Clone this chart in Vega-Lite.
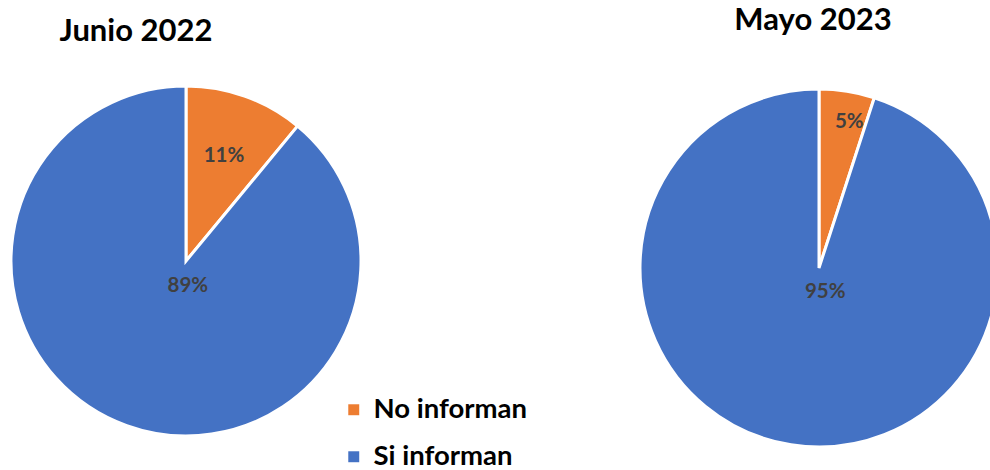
{
  "$schema": "https://vega.github.io/schema/vega-lite/v6.json",
  "width": 990,
  "height": 470,
  "autosize": {"type": "none"},
  "padding": 0,
  "background": "white",
  "config": {"view": {"stroke": null}},
  "data": {"values": [
    {"period": "Junio 2022", "category": "No informan", "value": 0.11},
    {"period": "Junio 2022", "category": "Si informan", "value": 0.89},
    {"period": "Mayo 2023", "category": "No informan", "value": 0.05},
    {"period": "Mayo 2023", "category": "Si informan", "value": 0.95}
  ]},
  "encoding": {
    "x": {"field": "period", "type": "nominal", "scale": {"type": "point", "domain": ["Junio 2022", "Mayo 2023"], "range": [186, 819], "padding": 0}, "axis": null},
    "y": {"field": "period", "type": "nominal", "scale": {"type": "point", "domain": ["Junio 2022", "Mayo 2023"], "range": [261, 268], "padding": 0}, "axis": null},
    "theta": {"field": "value", "type": "quantitative", "stack": true, "scale": {"domain": [0, 1]}},
    "order": {"field": "category", "sort": "ascending"}
  },
  "layer": [
    {
      "transform": [{"filter": "datum.period === 'Junio 2022'"}],
      "mark": {"type": "arc", "radius": 175, "stroke": "white", "strokeWidth": 3},
      "encoding": {
        "color": {"field": "category", "type": "nominal", "scale": {"domain": ["No informan", "Si informan"], "range": ["#ED7D31", "#4472C4"]},
          "legend": {"title": null, "orient": "none", "legendX": 340, "legendY": 396, "symbolType": "square", "symbolSize": 120, "symbolStrokeWidth": 0, "labelFont": "Lato", "labelFontWeight": "bold", "labelFontSize": 27.5, "labelColor": "#000000", "rowPadding": 18, "labelOffset": 6}}
      }
    },
    {
      "transform": [{"filter": "datum.period === 'Mayo 2023'"}],
      "mark": {"type": "arc", "radius": 179, "stroke": "white", "strokeWidth": 3},
      "encoding": {
        "color": {"field": "category", "type": "nominal"}
      }
    },
    {
      "transform": [{"filter": "datum.period === 'Junio 2022'"}],
      "mark": {"type": "text", "radius": 112, "font": "Lato", "fontWeight": "bold", "fontSize": 20.5, "color": "#404040"},
      "encoding": {
        "text": {"condition": {"test": "datum.category === 'No informan'", "field": "value", "format": ".0%"}, "value": ""}
      }
    },
    {
      "transform": [{"filter": "datum.period === 'Junio 2022'"}],
      "mark": {"type": "text", "radius": 24, "dx": 10, "dy": 2, "font": "Lato", "fontWeight": "bold", "fontSize": 20.5, "color": "#404040"},
      "encoding": {
        "text": {"condition": {"test": "datum.category === 'Si informan'", "field": "value", "format": ".0%"}, "value": ""}
      }
    },
    {
      "transform": [{"filter": "datum.period === 'Mayo 2023'"}],
      "mark": {"type": "text", "radius": 149, "dx": 7, "dy": 1, "font": "Lato", "fontWeight": "bold", "fontSize": 20.5, "color": "#404040"},
      "encoding": {
        "text": {"condition": {"test": "datum.category === 'No informan'", "field": "value", "format": ".0%"}, "value": ""}
      }
    },
    {
      "transform": [{"filter": "datum.period === 'Mayo 2023'"}],
      "mark": {"type": "text", "radius": 24, "dx": 10, "font": "Lato", "fontWeight": "bold", "fontSize": 20.5, "color": "#404040"},
      "encoding": {
        "text": {"condition": {"test": "datum.category === 'Si informan'", "field": "value", "format": ".0%"}, "value": ""}
      }
    },
    {
      "transform": [{"filter": "datum.period === 'Junio 2022' && datum.category === 'No informan'"}],
      "mark": {"type": "text", "dx": -50, "dy": -229, "font": "Lato", "fontWeight": "bold", "fontSize": 31, "color": "#000000", "baseline": "middle"},
      "encoding": {"text": {"field": "period"}, "theta": null, "order": null}
    },
    {
      "transform": [{"filter": "datum.period === 'Mayo 2023' && datum.category === 'No informan'"}],
      "mark": {"type": "text", "dx": -6, "dy": -247, "font": "Lato", "fontWeight": "bold", "fontSize": 31, "color": "#000000", "baseline": "middle"},
      "encoding": {"text": {"field": "period"}, "theta": null, "order": null}
    }
  ]
}
